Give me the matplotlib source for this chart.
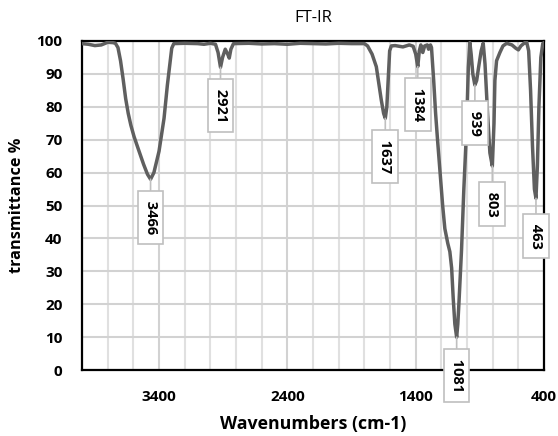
import matplotlib
matplotlib.use("Agg")
import matplotlib.pyplot as plt
from matplotlib.ticker import MultipleLocator

plt.rcParams['font.family'] = ['Open Sans', 'DejaVu Sans']

# FT-IR spectrum
wavenumber = [4000, 3950, 3900, 3850, 3800, 3760, 3740, 3720, 3700, 3680, 3660, 3640,
              3620, 3595, 3560, 3520, 3490, 3466, 3440, 3400, 3361, 3335, 3301, 3285,
              3200, 3100, 3050, 3000, 2960, 2940, 2921, 2905, 2884, 2865, 2853, 2840,
              2820, 2700, 2600, 2500, 2400, 2300, 2200, 2100, 2000, 1900, 1800, 1775,
              1740, 1707, 1668, 1650, 1637, 1625, 1616, 1603, 1590, 1560, 1500, 1450,
              1420, 1400, 1384, 1372, 1360, 1345, 1330, 1310, 1300, 1285, 1277, 1260,
              1245, 1230, 1212, 1190, 1173, 1150, 1134, 1120, 1108, 1095, 1081, 1072,
              1062, 1043, 1025, 1004, 990, 978, 968, 955, 939, 925, 910, 890, 874, 860,
              840, 822, 803, 790, 783, 770, 744, 720, 691, 650, 620, 600, 580, 550, 535,
              520, 505, 490, 475, 463, 452, 440, 425, 410, 400]
transmittance = [99.2, 99.0, 98.6, 98.8, 99.6, 99.5, 99.3, 98.0, 94.0, 88.5, 82.5, 78.0,
                 74.5, 71.0, 67.0, 62.5, 59.5, 58.0, 60.0, 66.5, 76.5, 86.6, 97.8, 99.2,
                 99.3, 99.2, 99.0, 99.3, 99.0, 96.5, 92.0, 95.0, 97.5, 96.0, 94.8, 97.5,
                 99.2, 99.3, 99.1, 99.2, 99.0, 99.3, 99.2, 99.1, 99.3, 99.2, 99.2, 98.5,
                 96.0, 92.2, 82.0, 78.0, 76.5, 80.0, 87.0, 97.0, 98.5, 98.6, 98.2, 98.8,
                 98.4, 96.0, 92.2, 97.0, 98.8, 96.5, 98.5, 98.8, 97.5, 98.8, 98.0, 88.0,
                 78.0, 70.0, 61.0, 50.0, 43.0, 38.5, 36.0, 31.0, 22.0, 14.0, 10.0, 14.0,
                 21.3, 36.5, 55.0, 73.0, 92.0, 99.5, 96.0, 90.0, 86.6, 88.0, 92.0, 97.0,
                 99.3, 93.0, 78.0, 66.0, 62.0, 75.0, 88.0, 94.0, 96.5, 98.5, 99.3, 98.8,
                 97.8, 97.3, 98.5, 99.5, 99.6, 97.0, 85.0, 68.0, 55.0, 52.2, 62.0, 80.0,
                 95.0, 99.2, 99.5]

peak_labels = [3466, 2921, 1637, 1384, 1081, 939, 803, 463]

fig = plt.figure(figsize=(5.58, 4.36), dpi=100)
ax = fig.add_axes([0.147, 0.151, 0.828, 0.755])

ax.plot(wavenumber, transmittance, color='#5f5f5f', lw=2.5, zorder=3)

ax.set_xlim(4000, 400)
ax.set_ylim(0, 100)
ax.set_xticks([3400, 2400, 1400, 400])
ax.xaxis.set_minor_locator(MultipleLocator(200))
ax.yaxis.set_major_locator(MultipleLocator(10))
ax.grid(which='major', color='#d2d2d2', lw=1.5)
ax.grid(which='minor', axis='x', color='#e0e0e0', lw=1.5)
ax.set_axisbelow(True)
ax.tick_params(which='both', length=0)
ax.tick_params(axis='y', pad=14, labelsize=11)
ax.tick_params(axis='x', pad=14, labelsize=11)
for lab in ax.get_xticklabels() + ax.get_yticklabels():
    lab.set_fontweight('bold')
for sp in ax.spines.values():
    sp.set_color('black')
    sp.set_linewidth(1.6)

ax.set_title('FT-IR', fontsize=12, pad=14)
ax.set_xlabel('Wavenumbers (cm-1)', fontsize=12.8, fontweight='bold', labelpad=8)
ax.set_ylabel('transmittance %', fontsize=11.7, fontweight='bold', labelpad=8)

# callout boxes under each labelled dip
for w in peak_labels:
    t = transmittance[wavenumber.index(w)]
    ax.annotate(' %d ' % w, xy=(w, t), xytext=(0, -38), textcoords='offset pixels',
                rotation=270, ha='center', va='center', fontsize=10.5, fontweight='bold',
                bbox=dict(boxstyle='square,pad=0.4', fc='white', ec='#bfbfbf', lw=1.2),
                arrowprops=dict(arrowstyle='-', color='#bfbfbf', lw=1.2,
                                shrinkA=0, shrinkB=0),
                zorder=4)

fig.savefig('out.png', dpi=100)
